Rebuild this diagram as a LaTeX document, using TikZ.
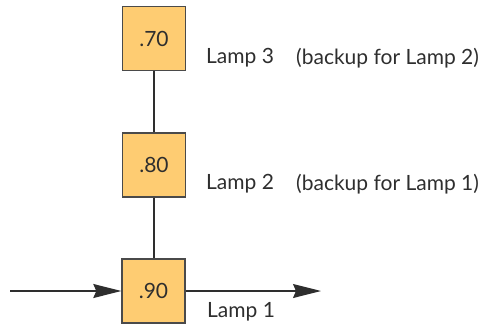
\documentclass[tikz,border=0pt]{standalone}
\usepackage{fontspec}
\setmainfont{Lato}
\usetikzlibrary{arrows.meta}
\definecolor{boxfill}{HTML}{FECC72}
\definecolor{boxline}{HTML}{4A4A4A}
\definecolor{txt}{HTML}{2E2E2E}
\begin{document}
\begin{tikzpicture}[x=1pt,y=-1pt,
  lampbox/.style={draw=boxline,fill=boxfill,line width=1.4pt,minimum width=63pt,minimum height=64pt,inner sep=0pt,font=\fontsize{21}{24}\selectfont,text=txt},
  lbl/.style={anchor=west,inner sep=0pt,font=\fontsize{21}{24}\selectfont,text=txt},
  conn/.style={draw=txt,line width=1.2pt},
  arr/.style={conn,-{Stealth[length=28pt,width=14pt,inset=3pt]}}]
\useasboundingbox (0,0) rectangle (482,325);
\node[lampbox] (b3) at (154,38.5) {.70};
\node[lampbox] (b2) at (154,165) {.80};
\node[lampbox] (b1) at (153.5,291) {.90};
\coordinate (in) at (10,291);
\coordinate (out) at (321,291);
\draw[conn] (b3.south) -- (b2.north);
\draw[conn] (b2.south) -- ([xshift=0.5pt]b1.north);
\draw[arr] (in) -- (b1.west);
\draw[arr] (b1.east) -- (out);
\node[lbl] (l3) at (206,58) {Lamp 3};
\node[lbl] (n3) at (296,58) {(backup for Lamp 2)};
\node[lbl] (l2) at (206,184) {Lamp 2};
\node[lbl] (n2) at (296,184) {(backup for Lamp 1)};
\node[lbl] (l1) at (207,312) {Lamp 1};
\end{tikzpicture}
\end{document}
